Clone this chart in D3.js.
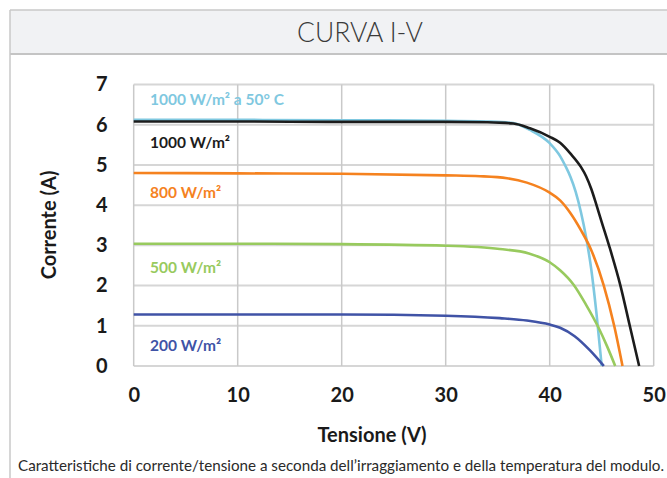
<!DOCTYPE html>
<html>
<head>
<meta charset="utf-8">
<script src="https://cdn.jsdelivr.net/npm/d3@7"></script>
<style>
  html, body { margin: 0; padding: 0; background: #ffffff; }
  svg { display: block; }
</style>
</head>
<body>
<svg id="chart" width="667" height="478"></svg>
<script>
// ---- Data ----
const xTicks = [0, 10, 20, 30, 40, 50];
const yTicks = [0, 1, 2, 3, 4, 5, 6, 7];

const seriesNames = ["1000 W/m² a 50° C", "1000 W/m²", "800 W/m²", "500 W/m²", "200 W/m²"];
const seriesColors = ["#7fc8e0", "#1c1c1c", "#f5821f", "#98ca5e", "#4053a6"];

const v1000t50 = [0, 10, 20, 30, 34, 36.5, 38.1, 40.0, 41.0, 41.5, 42.0, 42.5, 43.0, 43.5, 44.0, 44.5, 45.0];
const i1000t50 = [6.12, 6.12, 6.11, 6.10, 6.08, 6.04, 5.87, 5.54, 5.22, 4.98, 4.70, 4.33, 3.83, 3.20, 2.40, 1.30, 0];

const v1000 = [0, 10, 20, 30, 34, 36.5, 38.1, 40.0, 41.0, 42.0, 43.0, 43.5, 44.0, 44.5, 45.0, 45.7, 46.8, 47.7, 48.6];
const i1000 = [6.08, 6.08, 6.07, 6.07, 6.06, 6.03, 5.91, 5.70, 5.55, 5.28, 4.95, 4.72, 4.40, 4.00, 3.58, 3.0, 2.0, 1.0, 0];

const v800 = [0, 10, 20, 30, 33.3, 35.9, 37.8, 40.0, 41.0, 42.0, 43.0, 44.0, 45.2, 46.2, 47.0];
const i800 = [4.80, 4.79, 4.78, 4.74, 4.72, 4.67, 4.56, 4.31, 4.12, 3.80, 3.38, 2.88, 2.0, 1.0, 0];

const v500 = [0, 10, 20, 30, 35.2, 38.0, 40.0, 41.0, 42.3, 43.5, 44.7, 45.5, 46.3];
const i500 = [3.04, 3.04, 3.03, 2.99, 2.91, 2.80, 2.58, 2.38, 2.02, 1.52, 0.95, 0.50, 0];

const v200 = [0, 10, 20, 30, 35.2, 37.8, 40.0, 41.0, 42.4, 43.9, 45.2];
const i200 = [1.28, 1.28, 1.28, 1.25, 1.19, 1.13, 1.03, 0.95, 0.74, 0.38, 0];

const labelY = [6.65, 5.57, 4.32, 2.45, 0.52]; // current value at which each label sits

const titleText = "CURVA I-V";
const xTitle = "Tensione (V)";
const yTitle = "Corrente (A)";
const captionText = "Caratteristiche di corrente/tensione a seconda dell\u2019irraggiamento e della temperatura del modulo.";

// ---- Build ----
const series = [
  { v: v1000t50, i: i1000t50 },
  { v: v1000, i: i1000 },
  { v: v800, i: i800 },
  { v: v500, i: i500 },
  { v: v200, i: i200 }
].map((s, k) => ({
  name: seriesNames[k],
  color: seriesColors[k],
  labelI: labelY[k],
  points: s.v.map((v, j) => ({ v: v, i: s.i[j] }))
}));

const svg = d3.select("#chart");
const W = 667, H = 478;

// frame & title band
svg.append("rect").attr("x", 10).attr("y", 10).attr("width", W - 10).attr("height", 44)
  .attr("fill", "#f1f2f4");
svg.append("line").attr("x1", 10).attr("x2", W).attr("y1", 10).attr("y2", 10)
  .attr("stroke", "#c9c9c9").attr("stroke-width", 1.5);
svg.append("line").attr("x1", 10).attr("x2", W).attr("y1", 54).attr("y2", 54)
  .attr("stroke", "#c4c4c4").attr("stroke-width", 2);
svg.append("line").attr("x1", 10).attr("x2", 10).attr("y1", 10).attr("y2", H)
  .attr("stroke", "#c9c9c9").attr("stroke-width", 1.5);

svg.append("text").attr("x", 360).attr("y", 32).attr("text-anchor", "middle")
  .attr("dominant-baseline", "central")
  .style("font-family", "Lato, 'Open Sans', sans-serif").style("font-weight", 300)
  .style("font-size", "26.5px").attr("fill", "#3a3a3a").text(titleText);

// scales
const x = d3.scaleLinear().domain([0, 50]).range([133.7, 653.7]);
const y = d3.scaleLinear().domain([0, 7]).range([366, 84.5]);

// grid
const grid = svg.append("g");
grid.selectAll("line.h").data(yTicks).join("line")
  .attr("x1", x(0)).attr("x2", x(50))
  .attr("y1", d => y(d)).attr("y2", d => y(d))
  .attr("stroke", "#d6d6d6").attr("stroke-width", 2);
grid.selectAll("line.v").data(xTicks).join("line")
  .attr("y1", y(0)).attr("y2", y(7))
  .attr("x1", d => x(d)).attr("x2", d => x(d))
  .attr("stroke", "#c9c9c9").attr("stroke-width", 1.5);

// axes (labels only, via d3 axes)
const fontBold = "Lato, 'Open Sans', sans-serif";
const yAxis = svg.append("g").attr("transform", `translate(${x(0)},0)`)
  .call(d3.axisLeft(y).tickValues(yTicks).tickSize(0).tickPadding(30).tickFormat(d3.format("d")));
const xAxis = svg.append("g").attr("transform", `translate(0,${y(0)})`)
  .call(d3.axisBottom(x).tickValues(xTicks).tickSize(0).tickPadding(22).tickFormat(d3.format("d")));
[yAxis, xAxis].forEach(a => {
  a.select(".domain").remove();
  a.selectAll("text").style("font-family", fontBold).style("font-weight", 700)
    .style("font-size", "20px").attr("fill", "#1a1a1a");
});
yAxis.selectAll("text").attr("text-anchor", "middle").attr("dx", "-0.1em");

// lines
const line = d3.line().x(d => x(d.v)).y(d => y(d.i)).curve(d3.curveMonotoneX);
svg.append("g").selectAll("path").data(series).join("path")
  .attr("d", d => line(d.points))
  .attr("fill", "none")
  .attr("stroke", d => d.color)
  .attr("stroke-width", 2.6)
  .attr("stroke-linejoin", "round");

// series labels
svg.append("g").selectAll("text").data(series).join("text")
  .attr("x", 150).attr("y", d => y(d.labelI))
  .attr("dominant-baseline", "central")
  .style("font-family", fontBold).style("font-weight", 700).style("font-size", "15.5px")
  .attr("fill", d => d.color)
  .text(d => d.name);

// axis titles
svg.append("text").attr("x", 372).attr("y", 434).attr("text-anchor", "middle")
  .attr("dominant-baseline", "central")
  .style("font-family", fontBold).style("font-weight", 700).style("font-size", "20px")
  .attr("fill", "#1a1a1a").text(xTitle);
svg.append("text").attr("transform", "translate(48,225) rotate(-90)").attr("text-anchor", "middle")
  .attr("dominant-baseline", "central")
  .style("font-family", fontBold).style("font-weight", 700).style("font-size", "20px")
  .attr("fill", "#1a1a1a").text(yTitle);

// caption
svg.append("text").attr("x", 18).attr("y", 465)
  .attr("dominant-baseline", "central")
  .attr("textLength", 646).attr("lengthAdjust", "spacingAndGlyphs")
  .style("font-family", "Lato, 'Open Sans', sans-serif").style("font-weight", 400)
  .style("font-size", "15px").attr("fill", "#2a2a2a").text(captionText);
</script>
</body>
</html>
